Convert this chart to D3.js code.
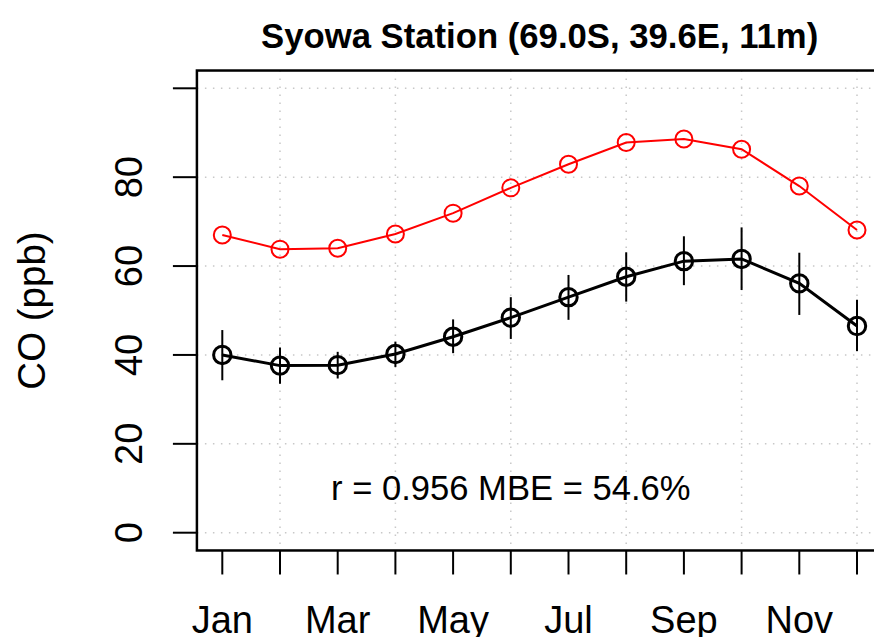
<!DOCTYPE html>
<html>
<head>
<meta charset="utf-8">
<script src="https://cdn.jsdelivr.net/npm/d3@7"></script>
<style>
  body { margin: 0; background: #fff; }
  svg text { font-family: "Liberation Sans", Arial, Helvetica, sans-serif; fill: #000; }
</style>
</head>
<body>
<svg id="chart" width="874" height="637"></svg>
<script>
// monthly climatology at Syowa
var months = ["Jan", "Feb", "Mar", "Apr", "May", "Jun", "Jul", "Aug", "Sep", "Oct", "Nov", "Dec"];
var monthIdx = [1, 2, 3, 4, 5, 6, 7, 8, 9, 10, 11, 12];
var modelCO = [67.0, 63.8, 64.0, 67.2, 71.9, 77.6, 82.9, 87.8, 88.6, 86.3, 78.0, 68.1];
var obsCO = [40.0, 37.6, 37.7, 40.2, 44.1, 48.4, 53.0, 57.6, 61.1, 61.6, 56.1, 46.5];
var obsLow = [34.3, 33.5, 34.7, 37.3, 40.4, 43.6, 47.9, 52.0, 55.7, 54.6, 49.0, 40.9];
var obsHigh = [45.6, 41.7, 40.7, 43.0, 48.0, 53.0, 58.0, 63.1, 66.7, 68.7, 63.0, 52.4];
var yTicks = [0, 20, 40, 60, 80, 100];
var yTickLabels = ["0", "20", "40", "60", "80", ""];
var xLabelMonths = [1, 3, 5, 7, 9, 11];
var xGrid = [2, 4, 6, 8, 10, 12];
var statsText = "r = 0.956 MBE = 54.6%";
var titleText = "Syowa Station (69.0S, 39.6E, 11m)";

var svg = d3.select("#chart");

var x = d3.scaleLinear().domain([1, 12]).range([222.3, 857]);
var y = d3.scaleLinear().domain([0, 100]).range([532.7, 88.3]);

// plot region, R style 4% padding
var boxL = x(0.56), boxR = x(12.44), boxT = y(104), boxB = y(-4);

// grid
var grid = svg.append("g")
    .attr("stroke", "#c8c8c8")
    .attr("stroke-width", 1.5)
    .attr("stroke-dasharray", "1.5,6.5");
grid.selectAll(".hg").data(yTicks).enter().append("line")
    .attr("x1", boxL).attr("x2", boxR)
    .attr("y1", function(d) { return y(d); })
    .attr("y2", function(d) { return y(d); });
grid.selectAll(".vg").data(xGrid).enter().append("line")
    .attr("y1", boxT).attr("y2", boxB)
    .attr("x1", function(d) { return x(d); })
    .attr("x2", function(d) { return x(d); });

// model line (red)
var line = d3.line()
    .x(function(d) { return x(d[0]); })
    .y(function(d) { return y(d[1]); });

svg.append("path")
    .datum(d3.zip(monthIdx, modelCO))
    .attr("fill", "none")
    .attr("stroke", "#ff0000")
    .attr("stroke-width", 2)
    .attr("d", line);

svg.selectAll(".mod").data(d3.zip(monthIdx, modelCO)).enter().append("circle")
    .attr("cx", function(d) { return x(d[0]); })
    .attr("cy", function(d) { return y(d[1]); })
    .attr("r", 8.5)
    .attr("fill", "none")
    .attr("stroke", "#ff0000")
    .attr("stroke-width", 2);

// observations (black) with error bars
svg.selectAll(".err").data(d3.range(12)).enter().append("line")
    .attr("x1", function(i) { return x(monthIdx[i]); })
    .attr("x2", function(i) { return x(monthIdx[i]); })
    .attr("y1", function(i) { return y(obsLow[i]); })
    .attr("y2", function(i) { return y(obsHigh[i]); })
    .attr("stroke", "#000")
    .attr("stroke-width", 2);

svg.append("path")
    .datum(d3.zip(monthIdx, obsCO))
    .attr("fill", "none")
    .attr("stroke", "#000")
    .attr("stroke-width", 3)
    .attr("d", line);

svg.selectAll(".obs").data(d3.zip(monthIdx, obsCO)).enter().append("circle")
    .attr("cx", function(d) { return x(d[0]); })
    .attr("cy", function(d) { return y(d[1]); })
    .attr("r", 8.7)
    .attr("fill", "none")
    .attr("stroke", "#000")
    .attr("stroke-width", 3);

// box
svg.append("rect")
    .attr("x", boxL).attr("y", boxT)
    .attr("width", boxR - boxL).attr("height", boxB - boxT)
    .attr("fill", "none")
    .attr("stroke", "#000")
    .attr("stroke-width", 2.5);

// y axis
svg.selectAll(".yt").data(yTicks).enter().append("line")
    .attr("x1", boxL - 24).attr("x2", boxL)
    .attr("y1", function(d) { return y(d); })
    .attr("y2", function(d) { return y(d); })
    .attr("stroke", "#000").attr("stroke-width", 2);

svg.selectAll(".yl").data(yTicks).enter().append("text")
    .attr("transform", function(d) { return "translate(141.5," + y(d) + ") rotate(-90)"; })
    .attr("text-anchor", "middle")
    .style("font-size", "38px")
    .text(function(d, i) { return yTickLabels[i]; });

// x axis
svg.selectAll(".xt").data(monthIdx).enter().append("line")
    .attr("x1", function(d) { return x(d); })
    .attr("x2", function(d) { return x(d); })
    .attr("y1", boxB).attr("y2", boxB + 24)
    .attr("stroke", "#000").attr("stroke-width", 2);

svg.selectAll(".xl").data(xLabelMonths).enter().append("text")
    .attr("x", function(d) { return x(d); })
    .attr("y", 633)
    .attr("text-anchor", "middle")
    .style("font-size", "38px")
    .text(function(d) { return months[d - 1]; });

// labels
svg.append("text")
    .attr("transform", "translate(45," + (boxT + boxB) / 2 + ") rotate(-90)")
    .attr("text-anchor", "middle")
    .style("font-size", "38.5px")
    .text("CO (ppb)");

svg.append("text")
    .attr("x", (boxL + boxR) / 2)
    .attr("y", 48)
    .attr("text-anchor", "middle")
    .style("font-size", "34.7px")
    .style("font-weight", "bold")
    .text(titleText);

svg.append("text")
    .attr("x", x(6))
    .attr("y", y(10) + 12)
    .attr("text-anchor", "middle")
    .style("font-size", "34.6px")
    .text(statsText);
</script>
</body>
</html>
